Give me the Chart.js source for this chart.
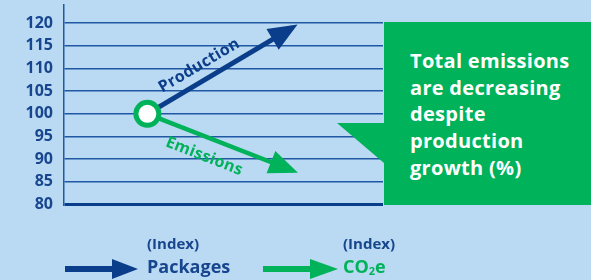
<!DOCTYPE html>
<html>
<head>
<meta charset="utf-8">
<script src="https://cdn.jsdelivr.net/npm/chart.js@4/dist/chart.umd.min.js"></script>
<style>
html, body { margin: 0; padding: 0; background: #bad9f2; }
#wrap { position: relative; width: 591px; height: 280px; overflow: hidden; font-family: 'Open Sans', sans-serif; font-weight: bold; }
#chart { position: absolute; left: 0; top: 0; }
#callout {
  position: absolute; left: 337px; top: 22px; width: 254px; height: 183px; background: #00b259;
  clip-path: polygon(47px 0, 254px 0, 254px 183px, 47px 183px, 47px 141px, 0 101px, 47px 101px);
}
#callout div { position: absolute; left: 73px; top: 26px; color: #fff; font-size: 20px; line-height: 26.7px; letter-spacing: 0.3px; }
.lg { position: absolute; line-height: 1.2; white-space: nowrap; }
.small { font-size: 15px; }
.big { font-size: 18px; }
.blue { color: #17468e; }
.green { color: #00b259; }
sub { font-size: 11px; vertical-align: -2px; }
#arrows { position: absolute; left: 0; top: 0; }
</style>
</head>
<body>
<div id="wrap">
  <canvas id="chart" width="591" height="280"></canvas>
  <div id="callout"><div>Total emissions<br>are decreasing<br>despite<br>production<br>growth (%)</div></div>
  <svg id="arrows" width="591" height="280">
    <line x1="65" y1="269" x2="114" y2="269" stroke="#0b3e8a" stroke-width="6"/>
    <polygon points="112,259 138,269 112,279" fill="#0b3e8a"/>
    <line x1="263" y1="269" x2="312" y2="269" stroke="#00b259" stroke-width="6"/>
    <polygon points="310,259 338,269 310,279" fill="#00b259"/>
  </svg>
  <div class="lg small blue" style="left:147px; top:234px;">(Index)</div>
  <div class="lg big blue" style="left:147px; top:256px;">Packages</div>
  <div class="lg small blue" style="left:343px; top:234px;">(Index)</div>
  <div class="lg big green" style="left:343px; top:256px;">CO<sub>2</sub>e</div>
</div>
<script>
var xValues = [0, 1];
var productionValues = [100, 119];
var emissionsValues = [100, 87.5];
var yTicks = [80, 85, 90, 95, 100, 105, 110, 115, 120];

var darkBlue = '#0b3e8a';
var green = '#00b259';
var gridBlue = '#2158a6';

function points(values) {
  return values.map(function(v, i) { return { x: xValues[i], y: v }; });
}

// arrow heads and the rotated labels on the two lines
var arrowPlugin = {
  id: 'arrows',
  afterDatasetsDraw: function(chart) {
    var ctx = chart.ctx;
    chart.data.datasets.forEach(function(ds, i) {
      if (!ds.arrowLabel) return;
      var pts = chart.getDatasetMeta(i).data;
      var a = pts[pts.length - 2], b = pts[pts.length - 1];
      var ang = Math.atan2(b.y - a.y, b.x - a.x);
      var cos = Math.cos(ang), sin = Math.sin(ang);
      var tipX = b.x + 6 * cos, tipY = b.y + 6 * sin;
      var len = 29, half = 12;
      ctx.save();
      ctx.fillStyle = ds.borderColor;
      ctx.beginPath();
      ctx.moveTo(tipX, tipY);
      ctx.lineTo(tipX - len * cos - half * sin, tipY - len * sin + half * cos);
      ctx.lineTo(tipX - len * cos + half * sin, tipY - len * sin - half * cos);
      ctx.closePath();
      ctx.fill();

      var t = ds.labelAt;
      var lx = a.x + (b.x - a.x) * t, ly = a.y + (b.y - a.y) * t;
      var side = ds.labelSide;
      lx += -sin * side;
      ly += cos * side;
      ctx.translate(lx, ly);
      ctx.rotate(ang);
      ctx.font = 'bold 16px "Open Sans"';
      ctx.letterSpacing = '0.3px';
      ctx.textAlign = 'center';
      ctx.textBaseline = 'middle';
      ctx.fillText(ds.arrowLabel, 0, 0);
      ctx.restore();
    });
  }
};

new Chart(document.getElementById('chart'), {
  type: 'line',
  data: {
    datasets: [{
      label: 'start',
      data: points([productionValues[0]]),
      showLine: false,
      pointRadius: 11.5,
      pointBorderWidth: 5,
      pointBackgroundColor: '#ffffff',
      pointBorderColor: green,
    }, {
      label: 'Production',
      data: points(productionValues),
      borderColor: darkBlue,
      borderWidth: 5,
      pointRadius: 0,
      arrowLabel: 'Production',
      labelAt: 0.41,
      labelSide: -15,
    }, {
      label: 'Emissions',
      data: points(emissionsValues),
      borderColor: green,
      borderWidth: 4.5,
      pointRadius: 0,
      arrowLabel: 'Emissions',
      labelAt: 0.44,
      labelSide: 19,
    }],
  },
  options: {
    responsive: false,
    animation: false,
    events: [],
    layout: { autoPadding: false, padding: { top: 5, right: 208, bottom: 75.5, left: 0 } },
    plugins: { legend: { display: false }, tooltip: { enabled: false } },
    scales: {
      x: { type: 'linear', min: -0.575, max: 1.625, display: false },
      y: {
        min: 80,
        max: 124,
        afterBuildTicks: function(scale) {
          scale.ticks = yTicks.map(function(v) { return { value: v }; });
        },
        afterFit: function(scale) {
          scale.width = 64;
          scale.paddingTop = 0;
          scale.paddingBottom = 0;
        },
        ticks: { color: '#17468e', padding: 11, font: { family: 'Open Sans', size: 16, weight: 'bold' } },
        border: { display: true, color: gridBlue, width: 1.5 },
        grid: {
          drawTicks: false,
          color: function(c) { return c.tick && c.tick.value === 80 ? darkBlue : gridBlue; },
          lineWidth: function(c) { return c.tick && c.tick.value === 80 ? 3 : 1.5; },
        },
      },
    },
  },
  plugins: [arrowPlugin],
});
</script>
</body>
</html>
